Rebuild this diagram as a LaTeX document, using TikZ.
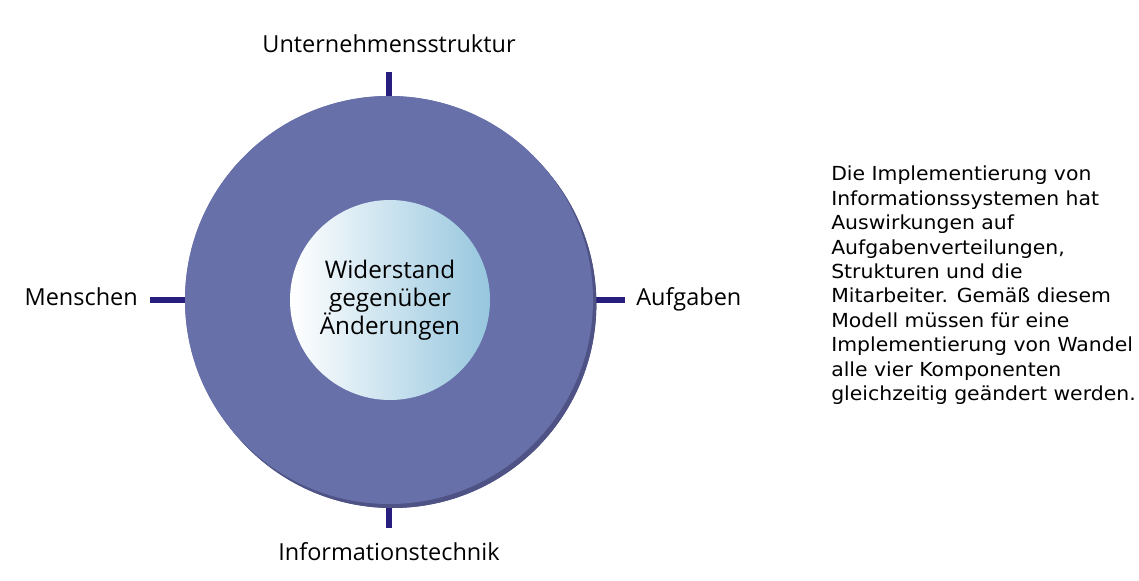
\documentclass[tikz,border=0pt]{standalone}
\usepackage{fontspec}
\setmainfont{Open Sans}
\newfontfamily\notefont[FakeStretch=1.055]{DejaVu Sans}
\usetikzlibrary{positioning, calc, shadows}
\definecolor{ringblue}{RGB}{104,112,170}
\definecolor{ringshade}{RGB}{78,82,132}
\definecolor{tickblue}{RGB}{40,30,125}
\definecolor{coreblue}{RGB}{150,198,222}
\tikzset{
  x=0.75pt, y=-0.75pt, % one unit is one pixel of the reference
  ring/.style={circle, fill=ringblue, minimum size=306pt, inner sep=0pt,
    drop shadow={shadow xshift=2.5pt, shadow yshift=-3pt, fill=ringshade, opacity=1}}, % the big disc
  core/.style={circle, left color=white, right color=coreblue, minimum size=150pt,
    inner sep=0pt, align=center, font=\fontsize{18.2}{21}\selectfont}, % inner disc
  tick/.style={draw=tickblue, line width=3.8pt}, % short bars on the ring
  part/.style={font=\fontsize{17.6}{20}\selectfont, inner sep=0pt}, % the four labels
  note/.style={font=\notefont\fontsize{14.5}{18.3}\selectfont, align=left, inner sep=0pt, anchor=north west},
}
\begin{document}
\begin{tikzpicture}
\useasboundingbox (0,0) rectangle (1139,581);
% end points of the bars
\coordinate (tn) at (389,72);
\coordinate (ts) at (389,528);
\coordinate (tw) at (150,300);
\coordinate (te) at (625,300);
\node[ring] (ring) at (389,300) {};
\draw[tick] (ring.north) ++(0,4) -- (tn);
\draw[tick] (ring.south) ++(0,-4) -- (ts);
\draw[tick] (ring.west) ++(4,0) -- (tw);
\draw[tick] (ring.east) ++(-4,0) -- (te);
\node[ring, drop shadow={opacity=0}] at (ring.center) {};
\node[core] (core) at (390,300) {Widerstand\\gegenüber\\Änderungen};
\node[part, anchor=base] (struct) at (389,53) {Unternehmensstruktur};
\node[part, anchor=base] (tech) at (389,560) {Informationstechnik};
\node[part, anchor=base east] (people) at (138,305) {Menschen};
\node[part, anchor=base west] (tasks) at (636,305) {Aufgaben};
\node[note] (text) at (831,166) {Die Implementierung von\\Informationssystemen hat\\Auswirkungen auf\\Aufgabenverteilungen,\\Strukturen und die\\Mitarbeiter. Gemäß diesem\\Modell müssen für eine\\Implementierung von Wandel\\alle vier Komponenten\\gleichzeitig geändert werden.};
\end{tikzpicture}
\end{document}
